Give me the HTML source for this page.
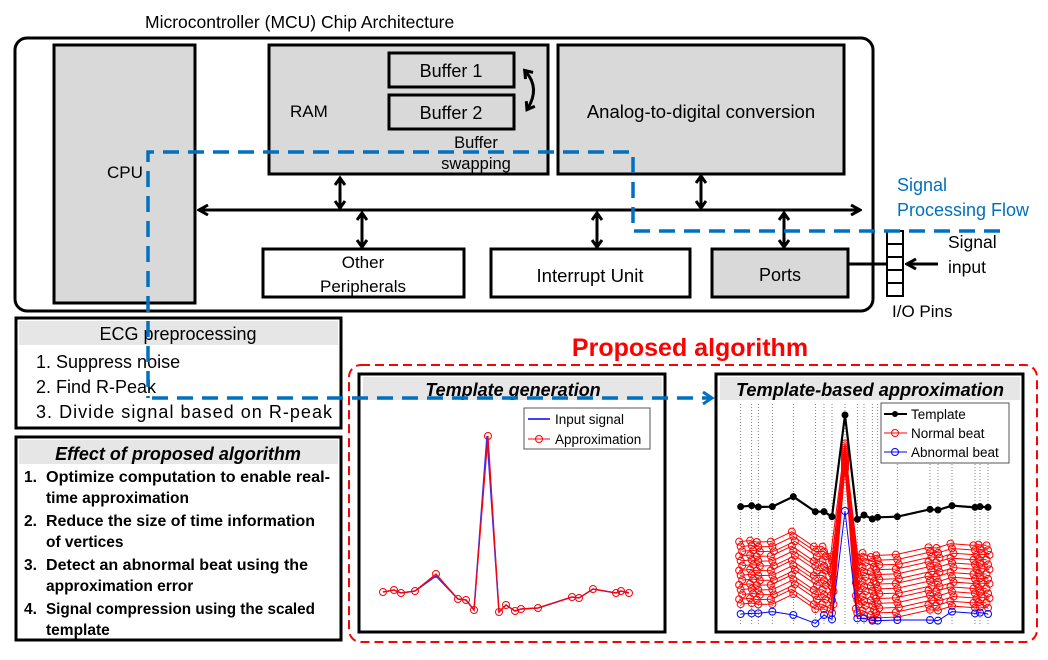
<!DOCTYPE html>
<html><head><meta charset="utf-8"><style>
html,body{margin:0;padding:0;background:#fff;}
svg{display:block;font-family:"Liberation Sans",sans-serif;}
</style></head><body>
<svg id="s" width="1048" height="660" viewBox="0 0 1048 660" xmlns="http://www.w3.org/2000/svg">
<defs>
<marker id="oa" markerWidth="12" markerHeight="12" refX="10" refY="6" orient="auto-start-reverse" markerUnits="userSpaceOnUse"><path d="M1,1 L10,6 L1,11" fill="none" stroke="#000" stroke-width="3"/></marker>
<marker id="da" markerWidth="12" markerHeight="12" refX="6" refY="6" orient="auto-start-reverse" markerUnits="userSpaceOnUse"><path d="M1,1 L8,6 L1,11" fill="none" stroke="#000" stroke-width="3"/></marker>
<marker id="ba" markerWidth="14" markerHeight="14" refX="10" refY="7" orient="auto" markerUnits="userSpaceOnUse"><path d="M1,1 L10,7 L1,13" fill="none" stroke="#0070c0" stroke-width="3"/></marker>
</defs>
<text x="145" y="28" font-size="17.5">Microcontroller (MCU) Chip Architecture</text>
<rect x="15" y="38" width="858" height="273" rx="12" fill="#fff" stroke="#000" stroke-width="3"/>
<rect x="54" y="45" width="141" height="258" fill="#d9d9d9" stroke="#000" stroke-width="3"/>
<text x="107" y="178" font-size="17">CPU</text>
<rect x="269" y="45" width="279" height="129" fill="#d9d9d9" stroke="#000" stroke-width="3"/>
<text x="290" y="117" font-size="17">RAM</text>
<rect x="389" y="53" width="125" height="34" fill="#d9d9d9" stroke="#000" stroke-width="3"/>
<text x="451" y="77" font-size="18" text-anchor="middle">Buffer 1</text>
<rect x="389" y="95" width="125" height="34" fill="#d9d9d9" stroke="#000" stroke-width="3"/>
<text x="451" y="119" font-size="18" text-anchor="middle">Buffer 2</text>
<text x="476" y="148" font-size="16.5" text-anchor="middle">Buffer</text>
<text x="476" y="169" font-size="16.5" text-anchor="middle">swapping</text>
<path d="M526,72 Q540,88 528,108" fill="none" stroke="#000" stroke-width="3" marker-start="url(#da)" marker-end="url(#da)"/>
<rect x="558" y="45" width="286" height="129" fill="#d9d9d9" stroke="#000" stroke-width="3"/>
<text x="701" y="118" font-size="18.5" text-anchor="middle">Analog-to-digital conversion</text>
<line x1="199" y1="210" x2="860" y2="210" stroke="#000" stroke-width="3" marker-start="url(#oa)" marker-end="url(#oa)"/>
<g stroke="#000" stroke-width="3">
<line x1="340" y1="180" x2="340" y2="206" marker-start="url(#da)" marker-end="url(#da)"/>
<line x1="362" y1="215" x2="362" y2="245" marker-start="url(#da)" marker-end="url(#da)"/>
<line x1="597" y1="215" x2="597" y2="245" marker-start="url(#da)" marker-end="url(#da)"/>
<line x1="701" y1="178" x2="701" y2="206" marker-start="url(#da)" marker-end="url(#da)"/>
<line x1="784" y1="215" x2="784" y2="245" marker-start="url(#da)" marker-end="url(#da)"/>
</g>
<rect x="263" y="249" width="201" height="48" fill="#fff" stroke="#000" stroke-width="3"/>
<text x="363" y="268" font-size="17" text-anchor="middle">Other</text>
<text x="363" y="292" font-size="17" text-anchor="middle">Peripherals</text>
<rect x="491" y="249" width="199" height="48" fill="#fff" stroke="#000" stroke-width="3"/>
<text x="590" y="282" font-size="18.5" text-anchor="middle">Interrupt Unit</text>
<rect x="712" y="249" width="136" height="48" fill="#d9d9d9" stroke="#000" stroke-width="3"/>
<text x="780" y="281" font-size="18" text-anchor="middle">Ports</text>
<line x1="848" y1="264" x2="888" y2="264" stroke="#000" stroke-width="3"/>
<g fill="#fff" stroke="#000" stroke-width="2">
<rect x="887" y="231" width="16" height="13"/><rect x="887" y="244" width="16" height="13"/><rect x="887" y="257" width="16" height="13"/><rect x="887" y="270" width="16" height="13"/><rect x="887" y="283" width="16" height="13"/>
</g>
<line x1="938" y1="264" x2="907" y2="264" stroke="#000" stroke-width="3" marker-end="url(#oa)"/>
<text x="948" y="248" font-size="17.5">Signal</text>
<text x="948" y="273" font-size="17.5">input</text>
<text x="892" y="317" font-size="17">I/O Pins</text>
<text x="897" y="191" font-size="18" fill="#0070c0">Signal</text>
<text x="897" y="216" font-size="18" fill="#0070c0">Processing Flow</text>
<rect x="16" y="318" width="325" height="110" fill="#fff" stroke="#000" stroke-width="3"/>
<rect x="19" y="321" width="319" height="24" fill="#e6e6e6"/>
<text x="178" y="340" font-size="18" text-anchor="middle">ECG preprocessing</text>
<text x="36" y="368" font-size="18">1. Suppress noise</text>
<text x="36" y="393" font-size="18">2. Find R-Peak</text>
<text x="36" y="418" font-size="18" textLength="296" lengthAdjust="spacing">3. Divide signal based on R-peak</text>
<rect x="16" y="437" width="325" height="203" fill="#fff" stroke="#000" stroke-width="3"/>
<rect x="19" y="440" width="319" height="24" fill="#e6e6e6"/>
<text x="178" y="460" font-size="18" font-style="italic" font-weight="bold" text-anchor="middle">Effect of proposed algorithm</text>
<g font-size="15.5" font-weight="bold">
<text x="24" y="482">1.</text><text x="46" y="482" textLength="284" lengthAdjust="spacingAndGlyphs">Optimize computation to enable real-</text><text x="46" y="503">time approximation</text>
<text x="24" y="526">2.</text><text x="46" y="526" textLength="269" lengthAdjust="spacingAndGlyphs">Reduce the size of time information</text><text x="46" y="547">of vertices</text>
<text x="24" y="570">3.</text><text x="46" y="570" textLength="262" lengthAdjust="spacingAndGlyphs">Detect an abnormal beat using the</text><text x="46" y="591">approximation error</text>
<text x="24" y="614">4.</text><text x="46" y="614" textLength="269" lengthAdjust="spacingAndGlyphs">Signal compression using the scaled</text><text x="46" y="635">template</text>
</g>
<text x="690" y="356" font-size="25" font-weight="bold" fill="#ff0000" text-anchor="middle">Proposed algorithm</text>
<rect x="349" y="365" width="688" height="277" rx="12" fill="none" stroke="#ff0000" stroke-width="2" stroke-dasharray="9,5"/>
<rect x="359" y="374" width="306" height="258" fill="#fff" stroke="#000" stroke-width="3"/>
<rect x="363" y="377" width="299" height="23" fill="#e6e6e6"/>
<text x="513" y="396" font-size="18" font-weight="bold" font-style="italic" text-anchor="middle">Template generation</text>
<rect x="716" y="374" width="307" height="258" fill="#fff" stroke="#000" stroke-width="3"/>
<rect x="720" y="377" width="300" height="23" fill="#e6e6e6"/>
<text x="870" y="396" font-size="18" font-weight="bold" font-style="italic" text-anchor="middle" textLength="268" lengthAdjust="spacingAndGlyphs">Template-based approximation</text>
<g id="plots"></g>
<rect x="524" y="408" width="126" height="41" fill="#fff" stroke="#555" stroke-width="1"/>
<line x1="528" y1="419" x2="550" y2="419" stroke="#4040ff" stroke-width="2"/>
<text x="555" y="424" font-size="13.5">Input signal</text>
<line x1="528" y1="439" x2="550" y2="439" stroke="#f00"/><circle cx="539" cy="439" r="3.5" fill="none" stroke="#f00"/>
<text x="555" y="444" font-size="13.5">Approximation</text>
<rect x="881" y="403" width="128" height="60" fill="#fff" stroke="#555" stroke-width="1"/>
<line x1="884" y1="414" x2="907" y2="414" stroke="#000" stroke-width="2"/><circle cx="895" cy="414" r="3" fill="#000"/>
<text x="911" y="419" font-size="13.5">Template</text>
<line x1="884" y1="433" x2="907" y2="433" stroke="#f00"/><circle cx="895" cy="433" r="3.5" fill="none" stroke="#f00"/>
<text x="911" y="438" font-size="13.5">Normal beat</text>
<line x1="884" y1="452" x2="907" y2="452" stroke="#00f"/><circle cx="895" cy="452" r="3.5" fill="none" stroke="#00f"/>
<text x="911" y="457" font-size="13.5">Abnormal beat</text>
<g fill="none" stroke="#0070c0" stroke-width="3.5" stroke-dasharray="16,9">
<polyline points="1000,231 633,231 633,152 148,152 148,398"/>
<polyline points="152,398 712,398" marker-end="url(#ba)"/>
</g>
</svg>
<script>
(function(){
var ns="http://www.w3.org/2000/svg",g=document.getElementById("plots");
function el(t,a){var e=document.createElementNS(ns,t);for(var k in a)e.setAttribute(k,a[k]);g.appendChild(e);return e;}
function pl(xs,ys,c,w,r,fillc){var p=xs.map(function(x,i){return x+","+ys[i]}).join(" ");
el("polyline",{points:p,fill:"none",stroke:c,"stroke-width":w});
if(r)xs.forEach(function(x,i){el("circle",{cx:x,cy:ys[i],r:r,fill:fillc||"none",stroke:c,"stroke-width":1});});}
var lx=[383,394,401,415,436,458,466,474,487,499,506,515,521,538,572,579,593,616,621,629];
var ly=[592,590,593,591,574,599,600,610,436,612,605,611,609,608,597,598,589,593,591,593];
pl(lx,ly.map(function(y,i){return y+(i==4?2:0)}),"#3030ff",1.5);
pl(lx.map(function(x,i){return i==8?x+1:x}),ly,"#ff0000",1.2,3.5);
var zx=[92,125,145,187,250,316,342,366,405,442,462,487,503,562,660,684,726,795,810,834];
var tx=zx.map(function(x){return 710+x/3});
var ty=[410,407,411,410,380,425,425,440,135,448,435,447,442,440,418,420,407,412,410,412].map(function(y){return 370+y/3});
tx.forEach(function(x){el("line",{x1:x,y1:404,x2:x,y2:625,stroke:"#666","stroke-width":0.8,"stroke-dasharray":"1,2"});});
for(var k=0;k<14;k++){
 var ys=ty.map(function(y,i){
  if(i==8)return 370+(220+k*6)/3;
  if(i==7||i==9)return 370+(560+k*13)/3;
  return y+35+k*4.8+(i>9?3:0);});
 var xs=tx.map(function(x,i){return i==8?x:x+(k%3-1)*1.5;});
 pl(xs,ys,"#ff0000",1,3.5);
}
var ay=[732,730,730,725,735,760,735,748,423,745,745,752,752,750,750,752,725,730,728,732].map(function(y){return 370+y/3});
pl(tx,ay,"#0000ff",1,3.5);
pl(tx,ty,"#000",2.2,3,"#000");
})();
</script>
</body></html>
